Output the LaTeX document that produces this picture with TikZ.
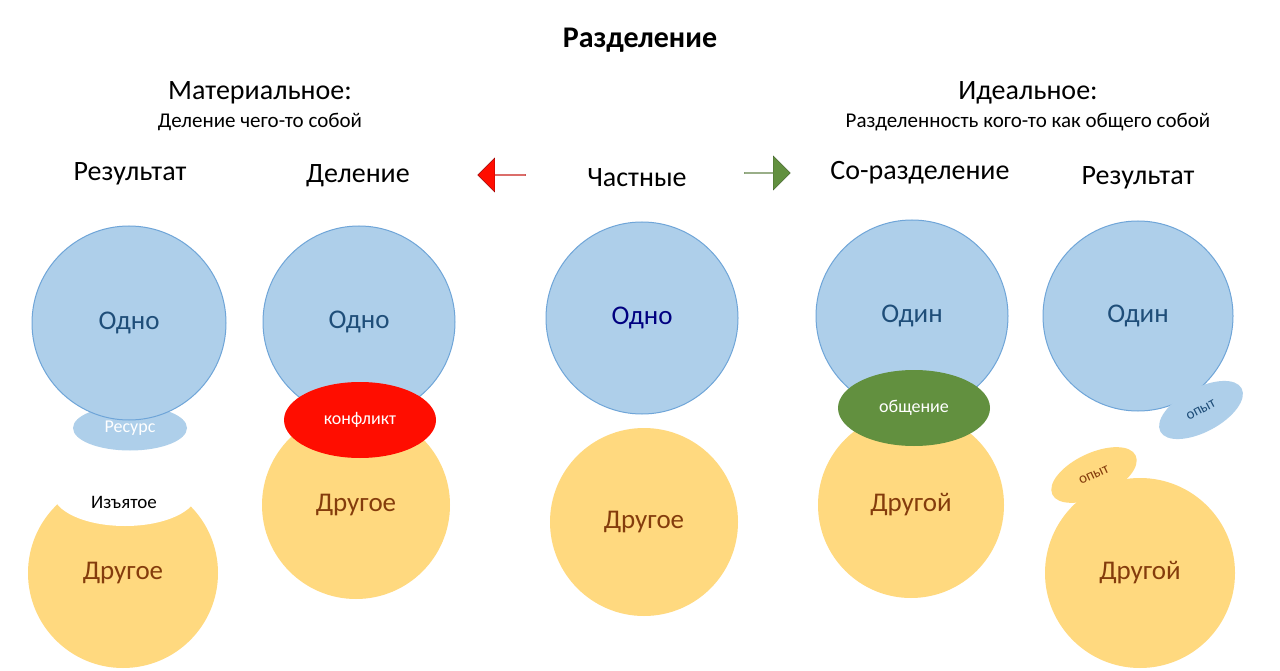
\documentclass[tikz,border=0pt]{standalone}
\usepackage{fontspec}
\setmainfont{Carlito}
\usetikzlibrary{shapes.arrows,shapes.geometric}
\definecolor{oneblue}{HTML}{AECFEA}
\definecolor{oneedge}{HTML}{6FA5D8}
\definecolor{othergold}{HTML}{FFD97F}
\definecolor{onetext}{HTML}{1F4E79}
\definecolor{othertext}{HTML}{843C0C}
\definecolor{linkgreen}{HTML}{62903F}
\begin{document}
\begin{tikzpicture}[x=1pt,y=-1pt,
    one/.style={circle,fill=oneblue,draw=oneedge,line width=1pt,text=onetext,font=\fontsize{27}{30}\selectfont},
    other/.style={circle,fill=othergold,text=othertext,font=\fontsize{27}{30}\selectfont},
    link/.style={ellipse,text=white,font=\fontsize{18}{20}\selectfont,inner sep=0pt},
    head/.style={font=\fontsize{28}{32}\selectfont},
    sub/.style={font=\fontsize{21}{24}\selectfont}]
  \useasboundingbox[fill=white] (0,0) rectangle (1280,671);
  \node[font=\bfseries\fontsize{30}{34}\selectfont] (title) at (640,40) {Разделение};
  \node[head] (mat) at (260,93) {Материальное:};
  \node[sub] (matsub) at (260,122) {Деление чего-то собой};
  \node[head] (ideal) at (1028,93) {Идеальное:};
  \node[sub] (idealsub) at (1028,122) {Разделенность кого-то как общего собой};
  \node[head] (h1) at (130,174) {Результат};
  \node[head] (h2) at (358,176) {Деление};
  \node[head] (h3) at (637,178) {Частные};
  \node[head] (h4) at (920,173) {Со-разделение};
  \node[head] (h5) at (1138,178) {Результат};
  \node[single arrow,shape border rotate=180,fill=red!90!orange,draw=red!60!black,line width=0.4pt,minimum height=48pt,minimum width=34pt,single arrow head extend=7pt,inner sep=0pt] (toleft) at (502,175) {};
  \node[single arrow,fill=linkgreen,draw=linkgreen!70!black,line width=0.4pt,minimum height=46pt,minimum width=34pt,single arrow head extend=7pt,inner sep=0pt] (toright) at (767,173) {};
  % result (material)
  \node[other,minimum size=190pt] (d1) at (123,573) {Другое};
  \fill[white] (125,493) ellipse [x radius=72,y radius=33];
  \node[font=\fontsize{19}{22}\selectfont] (cut) at (124,502) {Изъятое};
  \node[link,fill=oneblue,minimum width=114pt,minimum height=45pt] (res) at (130,428) {Ресурс};
  \node[one,minimum size=194pt] (o1) at (129,323) {Одно};
  % division
  \node[one,minimum size=192pt] (o2) at (359,322) {Одно};
  \node[other,minimum size=188pt] (d2) at (356,505) {Другое};
  \node[link,fill=red!90!orange,minimum width=152pt,minimum height=76pt] (conf) at (360,420) {конфликт};
  % particular
  \node[one,minimum size=192pt,text=blue!50!black] (o3) at (642,318) {Одно};
  \node[other,minimum size=188pt] (d3) at (644,522) {Другое};
  % co-division
  \node[one,minimum size=192pt] (o4) at (912,316) {Один};
  \node[other,minimum size=186pt] (d4) at (911,505) {Другой};
  \node[link,fill=linkgreen,minimum width=152pt,minimum height=76pt] (comm) at (914,408) {общение};
  % result (ideal)
  \node[one,minimum size=190pt] (o5) at (1138,316) {Один};
  \node[link,fill=oneblue,text=onetext,rotate=28,minimum width=92pt,minimum height=44pt,font=\fontsize{15}{17}\selectfont] (exp1) at (1201,410) {опыт};
  \node[other,minimum size=190pt] (d5) at (1140,573) {Другой};
  \node[link,fill=othergold,text=othertext,rotate=25,minimum width=92pt,minimum height=44pt,font=\fontsize{15}{17}\selectfont] (exp2) at (1094,475) {опыт};
\end{tikzpicture}
\end{document}
